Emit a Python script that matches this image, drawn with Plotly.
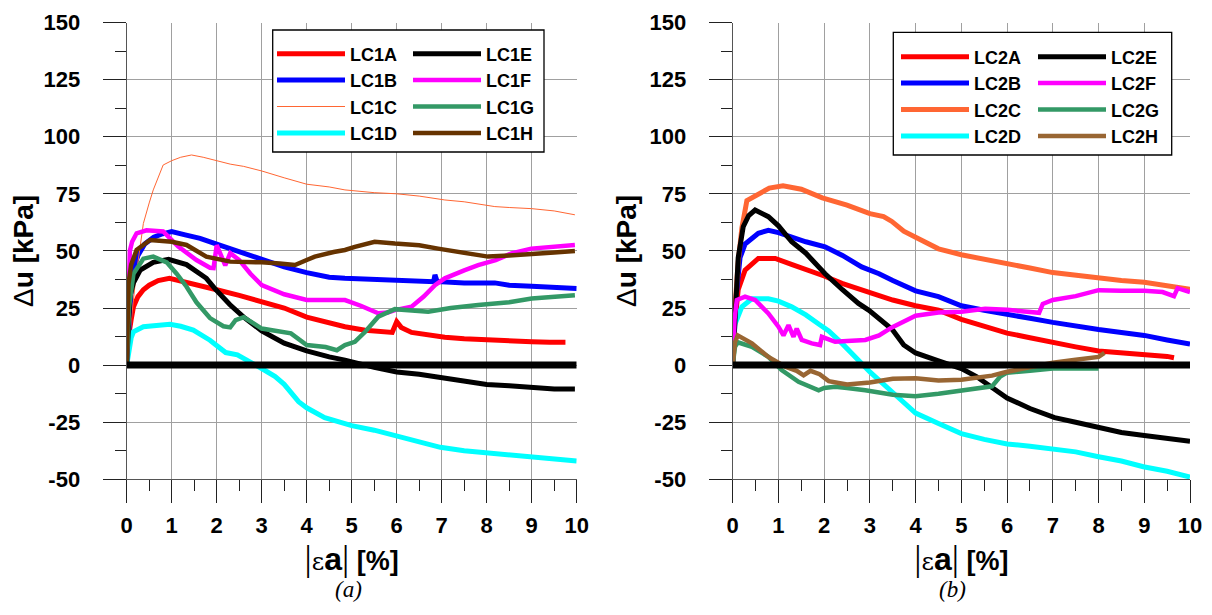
import plotly.graph_objects as go

# ---------------- data ----------------
# Panel (a)
LC1A_X = [0, 0.04, 0.1, 0.15, 0.25, 0.37, 0.5, 0.7, 0.95, 1.3, 1.6, 2.0, 2.5, 3.0, 3.5, 4.0, 4.5, 4.85, 5.3, 5.6, 5.9, 6.0, 6.1, 6.33, 6.6, 7.07, 7.5, 8.18, 8.6, 9.0, 9.4, 9.75]
LC1A_Y = [0, 12.5, 20, 25.5, 30, 33, 35, 37, 38, 36.5, 35, 33, 30.5, 28, 25, 21, 18.5, 16.8, 15.3, 14.7, 14.3, 19, 16.5, 14.3, 13.5, 12.2, 11.5, 10.7, 10.5, 10.2, 10, 10]

LC1B_X = [0, 0.05, 0.1, 0.15, 0.25, 0.4, 0.6, 0.8, 1.0, 1.3, 1.63, 2.0, 2.5, 3.0, 3.5, 4.0, 4.5, 4.85, 5.5, 6.0, 6.5, 6.82, 6.85, 6.9, 7.0, 7.5, 8.18, 8.5, 9.0, 9.5, 10]
LC1B_Y = [0, 20, 33, 42, 48, 53, 56, 57.5, 58.5, 57, 55.5, 53, 49.5, 46, 43, 40.5, 38.5, 38, 37.5, 37.5, 37, 36.5, 39.5, 36.5, 36.5, 36, 36, 35, 34.5, 34, 33.5]

LC1C_X = [0, 0.1, 0.2, 0.3, 0.37, 0.5, 0.59, 0.81, 1.0, 1.2, 1.44, 1.7, 2.0, 2.3, 2.6, 3.0, 3.5, 4.0, 4.5, 4.85, 5.5, 6.0, 6.5, 7.07, 7.5, 8.18, 8.5, 9.0, 9.5, 9.96]
LC1C_Y = [0, 20, 38, 52, 62, 71, 76.7, 87.6, 89.5, 91, 92, 91, 89.5, 88, 87, 85, 82, 79.2, 78, 76.7, 75.5, 75, 74, 72.3, 71.5, 69.4, 69, 68.5, 67.5, 65.8]

LC1D_X = [0, 0.04, 0.1, 0.15, 0.37, 0.6, 0.96, 1.2, 1.48, 1.85, 2.2, 2.46, 2.72, 3.0, 3.3, 3.5, 3.82, 4.0, 4.4, 5.0, 5.5, 5.95, 6.5, 6.97, 7.5, 8.0, 8.5, 9.0, 9.5, 10]
LC1D_Y = [0, 6.6, 12, 14.6, 16.8, 17.2, 17.9, 17, 15.3, 10.9, 5.5, 4.5, 1.9, -1.5, -5, -8.4, -16, -18.7, -23, -26.5, -28.5, -30.8, -33.5, -36, -37.5, -38.5, -39, -40.5, -41, -42]

LC1E_X = [0, 0.04, 0.07, 0.15, 0.3, 0.59, 0.93, 1.33, 1.77, 1.95, 2.29, 2.6, 3.0, 3.5, 4.0, 4.5, 4.85, 5.5, 6.0, 6.5, 7.07, 7.5, 8.0, 8.5, 9.0, 9.5, 9.96]
LC1E_Y = [0, 20, 30, 36, 41.6, 45, 46.3, 44, 38, 33.7, 26.5, 21, 15, 9.6, 6.2, 3.6, 2.2, -1, -3, -4, -5.8, -7, -8.5, -9, -10, -10.5, -10.5]

LC1F_X = [0, 0.03, 0.07, 0.12, 0.22, 0.44, 0.81, 1.14, 1.55, 1.85, 1.93, 2.0, 2.1, 2.19, 2.3, 2.5, 2.75, 3.0, 3.5, 4.0, 4.5, 4.85, 5.2, 5.59, 5.8, 5.96, 6.33, 6.6, 6.85, 7.07, 7.5, 7.81, 8.2, 8.55, 8.99, 9.5, 9.96]
LC1F_Y = [0, 30, 50, 54, 57.7, 59, 58.5, 52, 46, 42.6, 42.5, 52.5, 48, 43.7, 49, 46, 40, 35, 31, 28.5, 28.5, 28.5, 26, 22.7, 23, 24.1, 25.6, 30, 35, 38, 41.5, 43.8, 46, 48.9, 51, 52, 52.6]

LC1G_X = [0, 0.05, 0.15, 0.37, 0.59, 0.89, 1.11, 1.33, 1.55, 1.85, 2.15, 2.3, 2.42, 2.6, 3.0, 3.14, 3.65, 4.0, 4.42, 4.67, 4.85, 5.07, 5.3, 5.59, 5.96, 6.7, 7.2, 7.81, 8.5, 9.0, 9.5, 9.96]
LC1G_Y = [0, 25, 40, 46.6, 47.5, 45, 40, 34.3, 27.5, 20.6, 17, 16.5, 19.7, 21, 16, 15.6, 13.9, 8.8, 7.9, 6.5, 8.8, 10.2, 14.6, 21.2, 24.5, 23.4, 25, 26.3, 27.5, 29.2, 30, 30.6]

LC1H_X = [0, 0.04, 0.1, 0.22, 0.52, 0.81, 1.0, 1.33, 1.77, 2.3, 2.7, 3.0, 3.4, 3.74, 4.0, 4.18, 4.6, 4.85, 5.07, 5.51, 5.96, 6.5, 6.92, 7.5, 8.03, 8.5, 9.0, 9.29, 9.5, 9.96]
LC1H_Y = [0, 35.7, 44, 50.4, 54.8, 54.1, 54, 52.6, 47.5, 45.3, 45.3, 45, 44.5, 43.8, 46, 47.5, 49.5, 50.4, 51.8, 54, 53.2, 52.5, 51, 49, 47.5, 48, 48.5, 48.9, 49.3, 50]

# Panel (b)
LC2A_X = [0, 0.03, 0.12, 0.27, 0.56, 0.93, 1.3, 1.66, 2.0, 2.39, 2.82, 3.0, 3.5, 4.0, 4.5, 5.0, 5.5, 6.0, 6.5, 7.0, 7.5, 8.0, 8.5, 9.0, 9.5, 9.65]
LC2A_Y = [0, 15, 33, 41.6, 46.7, 46.7, 44, 41.6, 39, 35.8, 32.8, 32, 28.5, 26, 24, 20, 17, 14, 12, 9.8, 8, 6.2, 5.5, 4.5, 3.8, 3.2]

LC2B_X = [0, 0.05, 0.16, 0.27, 0.56, 0.78, 1.0, 1.29, 1.6, 2.02, 2.4, 2.82, 3.2, 3.5, 4.0, 4.5, 5.0, 5.5, 6.0, 6.5, 7.0, 7.5, 8.0, 8.5, 9.0, 9.5, 10]
LC2B_Y = [0, 25, 47, 53, 57.7, 59, 58, 56, 54, 51.8, 48, 43, 40, 37, 32.5, 30, 26, 24, 22.5, 20.5, 18.7, 17, 15.6, 14.3, 13, 11, 9.2]

LC2C_X = [0, 0.05, 0.12, 0.2, 0.31, 0.56, 0.8, 1.1, 1.5, 1.96, 2.5, 3.0, 3.3, 3.48, 3.74, 4.0, 4.5, 5.0, 5.5, 6.0, 6.5, 7.0, 7.5, 8.0, 8.5, 9.0, 9.5, 10]
LC2C_Y = [0, 25, 45, 60, 72, 75, 77.5, 78.5, 77, 73.2, 70, 66.3, 65, 62.9, 58.6, 56, 50.9, 48.3, 46.5, 44.8, 42.5, 40.5, 39.3, 38, 37, 36.3, 34.8, 33.2]

LC2D_X = [0, 0.05, 0.2, 0.42, 0.78, 1.0, 1.29, 1.6, 1.88, 2.1, 2.39, 2.75, 3.0, 3.5, 4.0, 4.5, 5.0, 5.5, 6.0, 6.5, 6.95, 7.5, 8.0, 8.5, 8.98, 9.5, 10]
LC2D_Y = [0, 18, 25.5, 29, 29, 28, 25.5, 22, 18, 15, 9.5, 2.2, -3, -12, -21, -25.6, -30, -32.5, -34.5, -35.5, -36.4, -38, -40.1, -42, -44.5, -46.5, -49]

LC2E_X = [0, 0.05, 0.12, 0.23, 0.35, 0.49, 0.6, 0.78, 1.0, 1.29, 1.6, 2.02, 2.4, 2.75, 2.98, 3.3, 3.49, 3.74, 4.0, 4.5, 5.0, 5.33, 5.7, 6.0, 6.5, 7.04, 7.5, 8.0, 8.5, 9.0, 9.5, 10]
LC2E_Y = [0, 25, 47, 60.6, 65.5, 67.9, 67, 65, 61, 54, 49, 40, 33, 27, 24, 19, 15.6, 8.8, 5.3, 1.9, -1.5, -5, -10, -14.4, -19, -23, -25, -27.3, -29.5, -30.8, -32, -33.3]

LC2F_X = [0, 0.04, 0.09, 0.27, 0.49, 0.78, 1.0, 1.11, 1.22, 1.33, 1.4, 1.51, 1.73, 1.91, 1.95, 2.24, 2.5, 2.9, 3.2, 3.48, 4.0, 4.5, 5.0, 5.52, 6.0, 6.53, 6.7, 6.78, 7.0, 7.5, 8.0, 8.5, 9.0, 9.4, 9.65, 9.73, 10]
LC2F_Y = [0, 20, 28.5, 30, 28.5, 22.6, 16.8, 13, 17.5, 12.4, 16, 11, 9.5, 8.8, 12.4, 10.2, 10.5, 11, 13, 16.5, 21.6, 23, 23.4, 24.7, 24.2, 23.4, 22.9, 26.8, 28.5, 30.2, 32.8, 32.5, 32.5, 32, 30.2, 33.7, 32]

LC2G_X = [0, 0.05, 0.11, 0.42, 0.78, 1.07, 1.44, 1.88, 2.0, 2.24, 2.5, 2.9, 3.5, 4.0, 4.5, 5.0, 5.67, 5.85, 6.0, 6.5, 7.0, 7.5, 8.0]
LC2G_Y = [0, 8, 10, 8, 3.6, -2.2, -7.3, -11, -10, -9.5, -10, -11, -13, -13.6, -12.5, -11, -9.3, -5, -3.3, -2.5, -1.5, -1.5, -1.5]

LC2H_X = [0, 0.05, 0.11, 0.42, 0.78, 1.15, 1.4, 1.55, 1.7, 1.9, 2.1, 2.5, 3.0, 3.5, 4.0, 4.5, 5.0, 5.67, 6.0, 6.5, 7.0, 7.5, 8.0, 8.13]
LC2H_Y = [0, 10, 13, 9.5, 3.6, -0.7, -2.5, -4.5, -2.5, -4, -7, -8.5, -7.6, -6, -5.8, -6.7, -6.4, -4.6, -2.9, -1, 1, 2.3, 3.6, 5.3]

# zero reference line
ZERO_X = [0, 10]
ZERO_Y = [0, 0]

# tick values / labels
X_TICKS = [0, 1, 2, 3, 4, 5, 6, 7, 8, 9, 10]
Y_TICKS = [-50, -25, 0, 25, 50, 75, 100, 125, 150]

# ---------------- styling ----------------
PAGE_W, PAGE_H = 1212, 615
OFF = 8                      # default body margin of the html page
W, H = PAGE_W - 2 * OFF, PAGE_H - 2 * OFF
FONT = "Liberation Sans, Arial, Helvetica, sans-serif"
SERIF = "Liberation Serif, Times New Roman, serif"

SERIES = [
    # name, x, y, color, width, subplot, legend
    ("LC1A", LC1A_X, LC1A_Y, "#FF0000", 5, 1, "legend"),
    ("LC1B", LC1B_X, LC1B_Y, "#0000FF", 5, 1, "legend"),
    ("LC1C", LC1C_X, LC1C_Y, "#FF6633", 1.0, 1, "legend"),
    ("LC1D", LC1D_X, LC1D_Y, "#00FFFF", 5, 1, "legend"),
    ("LC1E", LC1E_X, LC1E_Y, "#000000", 5, 1, "legend2"),
    ("LC1F", LC1F_X, LC1F_Y, "#FF00FF", 4.5, 1, "legend2"),
    ("LC1G", LC1G_X, LC1G_Y, "#339966", 4.5, 1, "legend2"),
    ("LC1H", LC1H_X, LC1H_Y, "#663300", 4.5, 1, "legend2"),
    ("LC2A", LC2A_X, LC2A_Y, "#FF0000", 5, 2, "legend3"),
    ("LC2B", LC2B_X, LC2B_Y, "#0000FF", 5, 2, "legend3"),
    ("LC2C", LC2C_X, LC2C_Y, "#FF6633", 5, 2, "legend3"),
    ("LC2D", LC2D_X, LC2D_Y, "#00FFFF", 5, 2, "legend3"),
    ("LC2E", LC2E_X, LC2E_Y, "#000000", 5, 2, "legend4"),
    ("LC2F", LC2F_X, LC2F_Y, "#FF00FF", 4.5, 2, "legend4"),
    ("LC2G", LC2G_X, LC2G_Y, "#339966", 4.5, 2, "legend4"),
    ("LC2H", LC2H_X, LC2H_Y, "#996633", 4.5, 2, "legend4"),
]

fig = go.Figure()
for name, xs, ys, color, width, sp, leg in SERIES:
    fig.add_trace(go.Scatter(
        x=xs, y=ys, mode="lines", name=name,
        line=dict(color=color, width=width),
        xaxis="x" if sp == 1 else "x2", yaxis="y" if sp == 1 else "y2",
        legend=leg,
    ))

for sp in (1, 2):
    fig.add_trace(go.Scatter(
        x=ZERO_X, y=ZERO_Y, mode="lines", showlegend=False,
        line=dict(color="#000000", width=7),
        xaxis="x" if sp == 1 else "x2", yaxis="y" if sp == 1 else "y2",
        cliponaxis=False, hoverinfo="skip",
    ))

def px_x(p):
    return (p - OFF) / W

def px_y(p):
    return 1 - (p - OFF) / H

GRID = "#A0A0A0"
AXC = "#555555"
tickfont = dict(family=FONT, size=22, color="#000000", weight="bold")

XTITLE = ('<span style="font-family:Liberation Serif;font-weight:normal;font-size:36px">|</span>'
          '<span style="font-family:DejaVu Serif;font-weight:normal;font-size:24px">ε</span>'
          '<span style="font-size:32px">a</span>'
          '<span style="font-family:Liberation Serif;font-weight:normal;font-size:36px">|</span> [%]')

def xaxis_cfg(dom, anchor):
    return dict(
        domain=dom, anchor=anchor, range=[0, 10], tickvals=X_TICKS,
        ticktext=[str(v) for v in X_TICKS], automargin=False,
        showgrid=True, gridcolor=GRID, gridwidth=1,
        showline=True, linecolor=AXC, linewidth=1.3,
        ticks="outside", ticklen=23, tickwidth=1.3, tickcolor="#222222",
        minor=dict(dtick=0.5, tick0=0, ticks="outside", ticklen=11, tickwidth=1.3,
                   tickcolor="#222222", showgrid=False),
        tickfont=tickfont, ticklabelstandoff=3, zeroline=False,
        title=dict(text=XTITLE,
                   font=dict(family=FONT, size=27, color="#000000", weight="bold"), standoff=7),
    )

def yaxis_cfg(dom, anchor):
    return dict(
        domain=dom, anchor=anchor, range=[-50, 150], tickvals=Y_TICKS,
        ticktext=[str(v) for v in Y_TICKS], automargin=False,
        showgrid=True, gridcolor=GRID, gridwidth=1,
        showline=True, linecolor=AXC, linewidth=1.3,
        ticks="outside", ticklen=23, tickwidth=1.3, tickcolor="#222222",
        minor=dict(dtick=12.5, tick0=0, ticks="outside", ticklen=11, tickwidth=1.3,
                   tickcolor="#222222", showgrid=False),
        tickfont=tickfont, ticklabelstandoff=18, zeroline=False,
        title=dict(text='<span style="font-weight:normal">Δ</span>u [kPa]',
                   font=dict(family=FONT, size=28, color="#000000", weight="bold"), standoff=4),
    )

YDOM = [px_y(479.3), px_y(22.5)]
legfont = dict(family=FONT, size=18, color="#000000", weight="bold")

def legend_cfg(x_px, y_px):
    return dict(x=px_x(x_px), y=px_y(y_px), xanchor="left", yanchor="top",
                bgcolor="rgba(0,0,0,0)", borderwidth=0, font=legfont,
                itemwidth=68, tracegroupgap=0, itemclick=False, itemdoubleclick=False)

fig.update_layout(
    width=W, height=H, margin=dict(l=0, r=0, t=0, b=0, autoexpand=False),
    paper_bgcolor="#FFFFFF", plot_bgcolor="#FFFFFF",
    xaxis=xaxis_cfg([px_x(126.7), px_x(576.7)], "y"),
    yaxis=yaxis_cfg(YDOM, "x"),
    xaxis2=xaxis_cfg([px_x(732.7), px_x(1190)], "y2"),
    yaxis2=yaxis_cfg(YDOM, "x2"),
    legend=legend_cfg(272, 35.5),
    legend2=legend_cfg(408, 35.5),
    legend3=legend_cfg(896, 38.5),
    legend4=legend_cfg(1033, 38.5),
    shapes=[
        dict(type="rect", xref="paper", yref="paper",
             x0=px_x(272.7), x1=px_x(544), y0=px_y(152), y1=px_y(30),
             line=dict(color="#000000", width=1.3), fillcolor="#FFFFFF", layer="above"),
        dict(type="rect", xref="paper", yref="paper",
             x0=px_x(893.3), x1=px_x(1171.7), y0=px_y(155), y1=px_y(32.3),
             line=dict(color="#000000", width=1.3), fillcolor="#FFFFFF", layer="above"),
    ],
    annotations=[
        dict(text="<i>(a)</i>", x=px_x(348), y=px_y(589), xref="paper", yref="paper",
             xanchor="center", yanchor="middle",
             showarrow=False, font=dict(family=SERIF, size=23, color="#000000")),
        dict(text="<i>(b)</i>", x=px_x(952), y=px_y(589), xref="paper", yref="paper",
             xanchor="center", yanchor="middle",
             showarrow=False, font=dict(family=SERIF, size=23, color="#000000")),
    ],
    showlegend=True,
)

fig.write_html("out.html", config={"displayModeBar": False})
